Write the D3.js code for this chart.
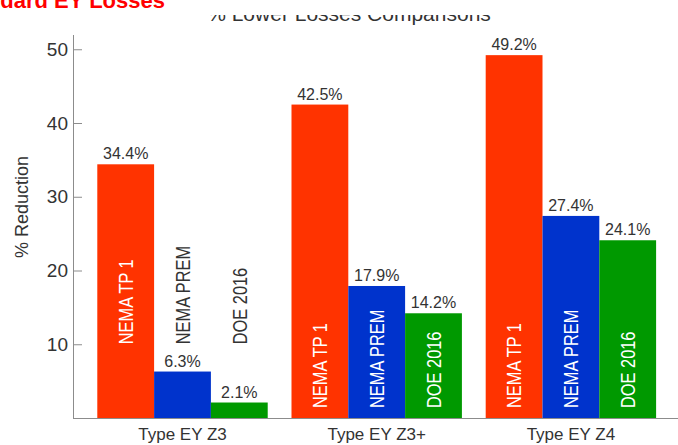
<!DOCTYPE html>
<html>
<head>
<meta charset="utf-8">
<script src="https://cdn.jsdelivr.net/npm/d3@7"></script>
<style>
  body { margin: 0; background: #fff; }
  svg { display: block; font-family: "Liberation Sans", Arial, sans-serif; }
  .axis path, .axis line { stroke: #8c8c8c; }
  .axis text { fill: #333; }
</style>
</head>
<body>
<svg id="chart" width="678" height="445"></svg>
<script>
// chart values
const categories = ["Type EY Z3", "Type EY Z3+", "Type EY Z4"];
const seriesNames = ["NEMA TP 1", "NEMA PREM", "DOE 2016"];
const nemaTp1 = [34.4, 42.5, 49.2];
const nemaPrem = [6.3, 17.9, 27.4];
const doe2016 = [2.1, 14.2, 24.1];
const yTicks = [10, 20, 30, 40, 50];

const colors = ["#ff3300", "#0033cc", "#009900"];
const seriesValues = [nemaTp1, nemaPrem, doe2016];

const svg = d3.select("#chart");
const width = 678, height = 445;
const narrow = 0.78; // squeeze for the rotated series names

const x = d3.scaleBand().domain(categories).range([85.4, 668])
    .paddingInner(0.1225).paddingOuter(0.06125);
const xInner = d3.scaleBand().domain(seriesNames).range([0, x.bandwidth()]);
const y = d3.scaleLinear().domain([0, 52]).range([418, 34.5]);

// title, partly hidden under the slide heading above it
svg.append("text")
    .attr("x", 349).attr("y", 21)
    .attr("text-anchor", "middle")
    .style("font-size", "21px").style("fill", "#333")
    .text("% Lower Losses Comparisons");
svg.append("rect").attr("x", 0).attr("y", 0).attr("width", width)
    .attr("height", 15).attr("fill", "#fff");
svg.append("text")
    .attr("x", 165).attr("y", 8)
    .attr("text-anchor", "end")
    .style("font-size", "22px").style("font-weight", "bold")
    .style("fill", "#ff0000")
    .text("Standard EY Losses");

// bars
let groups = svg.selectAll("g.group").data(categories).enter().append("g")
    .attr("class", "group")
    .attr("transform", c => `translate(${x(c)},0)`);

let barData = (c, gi) => seriesNames.map(
    (s, si) => ({ cat: c, series: s, si: si, value: seriesValues[si][gi] }));

groups.selectAll("rect").data(barData).enter().append("rect")
    .attr("x", d => xInner(d.series))
    .attr("width", xInner.bandwidth())
    .attr("y", d => y(d.value))
    .attr("height", d => y(0) - y(d.value))
    .attr("fill", d => colors[d.si]);

// value labels
groups.selectAll("text.value").data(barData).enter().append("text")
    .attr("class", "value")
    .attr("x", d => xInner(d.series) + xInner.bandwidth() / 2)
    .attr("y", d => y(d.value) - 5)
    .attr("text-anchor", "middle")
    .style("font-size", "16px").style("fill", "#333")
    .text(d => d.value.toFixed(1) + "%");

// series names, rotated; lifted above short bars when they do not fit
groups.each(function(c, gi) {
  let g = d3.select(this);
  let labels = g.selectAll("text.series").data(barData(c, gi)).enter()
      .append("text")
      .attr("class", "series")
      .style("font-size", "21px")
      .attr("text-anchor", "start")
      .attr("dy", "0.35em")
      .text(d => d.series);

  let fits = [];
  labels.each(function(d) {
    let len = this.getComputedTextLength() * narrow;
    fits.push(y(0) - y(d.value) >= len + 12);
  });
  let base = fits.every(f => f) ? y(0) - 10 : y(10);

  labels.each(function(d) {
    let cx = xInner(d.series) + xInner.bandwidth() / 2;
    let len = this.getComputedTextLength() * narrow;
    let inside = y(d.value) < base - len - 6;
    d3.select(this)
        .attr("transform",
              `translate(${cx},${base}) rotate(-90) scale(${narrow},1)`)
        .style("fill", inside ? "#fff" : "#333");
  });
});

// axes
let yAxis = svg.append("g").attr("class", "axis")
    .attr("transform", "translate(73,0)")
    .call(d3.axisLeft(y).tickValues(yTicks).tickSizeInner(-9)
              .tickSizeOuter(0).tickPadding(5));
yAxis.selectAll("text").style("font-size", "19px");

svg.append("line").attr("class", "axis")
    .attr("x1", 73).attr("x2", width).attr("y1", 418.5).attr("y2", 418.5)
    .attr("stroke", "#8c8c8c");

svg.selectAll("text.cat").data(categories).enter().append("text")
    .attr("class", "cat")
    .attr("x", c => x(c) + x.bandwidth() / 2)
    .attr("y", 440)
    .attr("text-anchor", "middle")
    .style("font-size", "17px").style("fill", "#333")
    .text(c => c);

svg.append("text")
    .attr("transform", "translate(22,207) rotate(-90)")
    .attr("text-anchor", "middle")
    .attr("dy", "0.35em")
    .style("font-size", "18px").style("fill", "#333")
    .text("% Reduction");
</script>
</body>
</html>
